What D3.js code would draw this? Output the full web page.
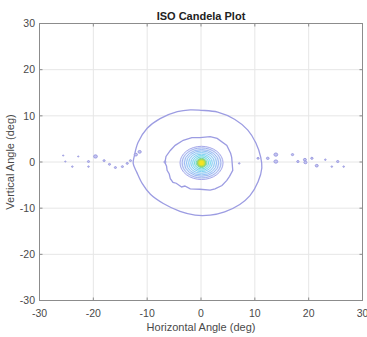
<!DOCTYPE html>
<html><head><meta charset="utf-8">
<script src="https://cdn.jsdelivr.net/npm/d3@7"></script>
<style>body{margin:0;background:#fff}svg{display:block}</style>
</head><body><svg id="c" width="367" height="337"></svg>
<script>
const xTicks=[-30,-20,-10,0,10,20,30];
const yTicks=[-30,-20,-10,0,10,20,30];
const titleText="ISO Candela Plot";
const xLabel="Horizontal Angle (deg)";
const yLabel="Vertical Angle (deg)";
// outer iso-candela contour (deg)
const outerContour=[[0,11.2],[3.1,10.8],[6.3,9.2],[8.7,6.9],[10.2,4.1],[11.1,1.0],[11.3,-1.3],[10.6,-4.3],[9.1,-7.3],[7.2,-9.2],[4.4,-10.8],[1.7,-11.5],[-1.1,-11.5],[-3.9,-10.7],[-7.0,-9.0],[-9.4,-7.0],[-10.9,-4.7],[-11.9,-2.3],[-12.6,-0.3],[-12.4,1.2],[-11.7,4.2],[-10.0,7.3],[-7.6,9.4],[-4.4,10.9],[-2.0,11.3]];
// second contour (deg)
const secondContour=[[-0.2,5.3],[1.7,5.5],[3.0,5.1],[4.8,3.6],[5.5,1.9],[5.7,1.0],[5.9,-1.8],[5.3,-3.1],[4.8,-4.0],[3.9,-5.1],[2.6,-5.8],[1.7,-6.1],[-0.2,-5.9],[-2.0,-5.8],[-3.0,-5.2],[-3.6,-5.4],[-4.6,-4.6],[-5.2,-4.4],[-5.7,-3.6],[-5.9,-2.6],[-6.3,-1.8],[-6.4,-0.9],[-6.7,-0.1],[-6.5,1.2],[-5.7,2.5],[-4.8,3.6],[-3.3,4.7],[-1.7,5.3]];
// inner concentric contours around the peak
const ringRx=[4.0,3.6,3.2,2.8,2.4,2.0,1.65,1.3,1.0,0.7,0.45,0.25];
const ringRy=[3.6,3.25,2.9,2.6,2.25,1.9,1.6,1.3,1.0,0.75,0.5,0.3];
const ringColors=["#a8a9ea","#a2b0ee","#9bb9f2","#94c3f4","#8ccbf4","#82d3f2","#74d9ec","#66dcd8","#6cd6ac","#90d672","#cadd3e","#f4e422"];
const ringCx=0.1, ringCy=-0.2;
// small isolated loops along the horizontal axis
const dotX=[-25.6,-25.2,-23.9,-22.8,-20.9,-20.9,-19.6,-18.0,-17.0,-15.9,-14.6,-13.7,-13.1,-12.1,-11.4,10.6,12.4,13.9,13.9,17.0,18.0,19.3,19.4,20.6,21.5,23.1,24.3,25.4,26.5,7.1,-6.7];
const dotY=[1.4,0.1,-1.0,1.2,0.1,-1.0,1.2,0.3,-0.5,-1.2,-1.0,-0.3,0.3,1.6,2.2,0.8,0.8,1.6,0.1,1.6,0.1,0.5,-0.1,0.8,-0.8,0.5,-1.0,0.1,-1.0,-0.3,0.0];
const dotR=[0.12,0.12,0.15,0.12,0.2,0.15,0.35,0.2,0.2,0.2,0.2,0.2,0.2,0.3,0.3,0.2,0.25,0.35,0.35,0.22,0.22,0.28,0.28,0.22,0.28,0.15,0.15,0.22,0.15,0.15,0.2];

const svg=d3.select("#c");
const x=d3.scaleLinear().domain([-30,30]).range([39.5,362.5]);
const y=d3.scaleLinear().domain([-30,30]).range([300.5,23.5]);
const font="'Liberation Sans', Arial, Helvetica, sans-serif";
const lc="#9c9ce2";

// grid
const g=svg.append("g");
g.selectAll(".gx").data(xTicks).join("line")
 .attr("x1",d=>x(d)).attr("x2",d=>x(d)).attr("y1",y(-30)).attr("y2",y(30))
 .attr("stroke","#e6e6e6").attr("stroke-width",1);
g.selectAll(".gy").data(yTicks).join("line")
 .attr("y1",d=>y(d)).attr("y2",d=>y(d)).attr("x1",x(-30)).attr("x2",x(30))
 .attr("stroke","#e6e6e6").attr("stroke-width",1);

// contours
const line=d3.line().x(d=>x(d[0])).y(d=>y(d[1])).curve(d3.curveCatmullRomClosed.alpha(0.5));
svg.append("path").attr("d",line(outerContour)).attr("fill","none").attr("stroke",lc).attr("stroke-width",1.3);
const line2=d3.line().x(d=>x(d[0])).y(d=>y(d[1])).curve(d3.curveLinearClosed);
svg.append("path").attr("d",line2(secondContour)).attr("fill","none").attr("stroke",lc).attr("stroke-width",1.3);

const kx=x(1)-x(0), ky=y(0)-y(1);
svg.append("ellipse").attr("cx",x(ringCx)).attr("cy",y(ringCy))
 .attr("rx",ringRx[0]*kx).attr("ry",ringRy[0]*ky).attr("fill","#e6effc");
svg.append("g").selectAll("ellipse").data(ringRx).join("ellipse")
 .attr("cx",x(ringCx)).attr("cy",y(ringCy))
 .attr("rx",(d)=>d*kx).attr("ry",(d,i)=>ringRy[i]*ky)
 .attr("fill","none").attr("stroke",(d,i)=>ringColors[i])
 .attr("stroke-width",(d,i)=>i>=9?2:1);
svg.append("ellipse").attr("cx",x(ringCx)).attr("cy",y(ringCy))
 .attr("rx",ringRx[ringRx.length-1]*kx).attr("ry",ringRy[ringRy.length-1]*ky)
 .attr("fill",ringColors[ringColors.length-1]);

svg.append("g").selectAll("ellipse").data(dotX).join("ellipse")
 .attr("cx",d=>x(d)).attr("cy",(d,i)=>y(dotY[i]))
 .attr("rx",(d,i)=>dotR[i]*kx).attr("ry",(d,i)=>dotR[i]*ky)
 .attr("fill","#c4c4f0").attr("stroke",lc).attr("stroke-width",1);

// axes box + ticks
const ax=svg.append("g").attr("font-family",font).attr("font-size","10.5px").attr("fill","#4a4a4a");
ax.append("rect").attr("x",x(-30)).attr("y",y(30)).attr("width",x(30)-x(-30)).attr("height",y(-30)-y(30))
 .attr("fill","none").attr("stroke","#8c8c8c").attr("stroke-width",1);
xTicks.forEach(t=>{
  ax.append("line").attr("x1",x(t)).attr("x2",x(t)).attr("y1",y(-30)).attr("y2",y(-30)-3).attr("stroke","#8c8c8c");
  ax.append("line").attr("x1",x(t)).attr("x2",x(t)).attr("y1",y(30)).attr("y2",y(30)+3).attr("stroke","#8c8c8c");
  ax.append("text").attr("x",x(t)).attr("y",317).attr("text-anchor","middle").text(t);
});
yTicks.forEach(t=>{
  ax.append("line").attr("y1",y(t)).attr("y2",y(t)).attr("x1",x(-30)).attr("x2",x(-30)+3).attr("stroke","#8c8c8c");
  ax.append("line").attr("y1",y(t)).attr("y2",y(t)).attr("x1",x(30)).attr("x2",x(30)-3).attr("stroke","#8c8c8c");
  ax.append("text").attr("x",35).attr("y",y(t)+3.8).attr("text-anchor","end").text(t);
});
svg.append("text").attr("x",201).attr("y",19.5).attr("text-anchor","middle").attr("font-family",font)
 .attr("font-size","11px").attr("font-weight","bold").attr("fill","#222").text(titleText);
svg.append("text").attr("x",201).attr("y",331).attr("text-anchor","middle").attr("font-family",font)
 .attr("font-size","11px").attr("fill","#4a4a4a").text(xLabel);
svg.append("text").attr("transform","translate(13.5,162) rotate(-90)").attr("text-anchor","middle").attr("font-family",font)
 .attr("font-size","11px").attr("fill","#4a4a4a").text(yLabel);
</script></body></html>
